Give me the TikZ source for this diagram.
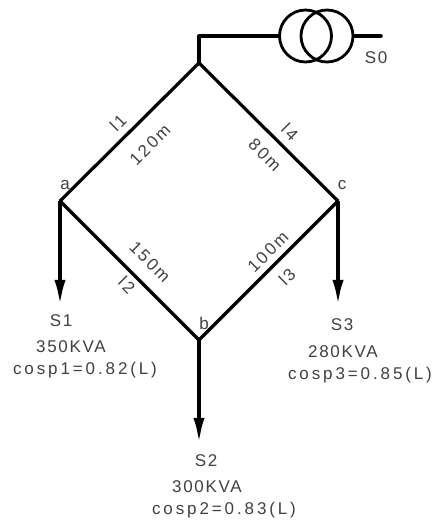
\documentclass[tikz,border=0pt]{standalone}
\usepackage{fontspec}
\setmainfont[LetterSpace=10]{Liberation Sans}
\usetikzlibrary{arrows.meta,positioning}

\begin{document}
\begin{tikzpicture}[
    x=1pt,
    y=-1pt,
    font=\fontsize{17}{17}\selectfont,
    bus/.style={
		inner sep=0pt,
		minimum size=0pt
	},
    line/.style={
		line width=3.2pt,
		line cap=round,
		line join=miter
	},
    feeder/.style={
		line width=4pt,
		line cap=round,
		line join=miter
	},
    load/.style={
		line width=4.5pt,
		-{Latex[length=29pt,width=11pt]},
		shorten >=-1pt
	},
    winding/.style={
		circle,
		draw=black,
		line width=2.8pt,
		minimum size=52pt,
		inner sep=0pt
	},
    label/.style={
		inner sep=0pt,
		text=black!75
	},
    linelabel/.style={
		label,
		font=\fontsize{17}{17}\selectfont\addfontfeature{LetterSpace=14}
	},
    cosphi/.style={
		label,
		font=\fontsize{17}{17}\selectfont\addfontfeature{LetterSpace=17}
	}
  ]
    \useasboundingbox (0,0) rectangle (436,521);

    % the ring
    \node [bus] (top) at (199,63) {};
    \node [bus] (busa) at (60,201) {};
    \node [bus] (busb) at (199,340) {};
    \node [bus] (busc) at (338,201) {};

    \draw [line] (top) -- (busa);
    \draw [line] (busa) -- (busb);
    \draw [line] (busb) -- (busc);
    \draw [line] (busc) -- (top);

    % the transformer
    \node [bus] (corner) at (199,36) {};
    \node [winding] (wind1) at (305.5,36) {};
    \node [winding] (wind2) at (327,36) {};
    \node [bus] (s0end) at (381,36) {};

    \draw [feeder] (top) -- (corner) -- (wind1.west);
    \draw [feeder] (wind2.east) -- (s0end);

    % the loads
    \node [bus] (tip1) at (60,308) {};
    \node [bus] (tip2) at (199,446) {};
    \node [bus] (tip3) at (338,308) {};

    \draw [load] (busa) -- (tip1);
    \draw [load] (busb) -- (tip2);
    \draw [load] (busc) -- (tip3);

    % texts
    \node [label] (s0) at (376,58) {S0};
    \node [label] (namea) at (65,185) {a};
    \node [label] (nameb) at (204,323) {b};
    \node [label] (namec) at (342,185) {c};

    \node [linelabel, rotate=45] (l1) at (118,123) {l1};
    \node [linelabel, rotate=45] (len1) at (150,145) {120m};
    \node [linelabel, rotate=-45] (l4) at (290,132) {l4};
    \node [linelabel, rotate=-45] (len4) at (265,155) {80m};
    \node [linelabel, rotate=-45] (len2) at (150,262) {150m};
    \node [linelabel, rotate=-45] (l2) at (127,285) {l2};
    \node [linelabel, rotate=45] (len3) at (268,252) {100m};
    \node [linelabel, rotate=45] (l3) at (287,277) {l3};

    \node [label] (s1) at (61,321) {S1};
    \node [label] (p1) at (71,347) {350KVA};
    \node [cosphi] (cos1) at (85,370) {cosp1=0.82(L)};

    \node [label] (s2) at (206,461) {S2};
    \node [label] (p2) at (207,487) {300KVA};
    \node [cosphi] (cos2) at (224,510) {cosp2=0.83(L)};

    \node [label] (s3) at (342,325) {S3};
    \node [label] (p3) at (343,352) {280KVA};
    \node [cosphi] (cos3) at (360,375) {cosp3=0.85(L)};

\end{tikzpicture}
\end{document}
